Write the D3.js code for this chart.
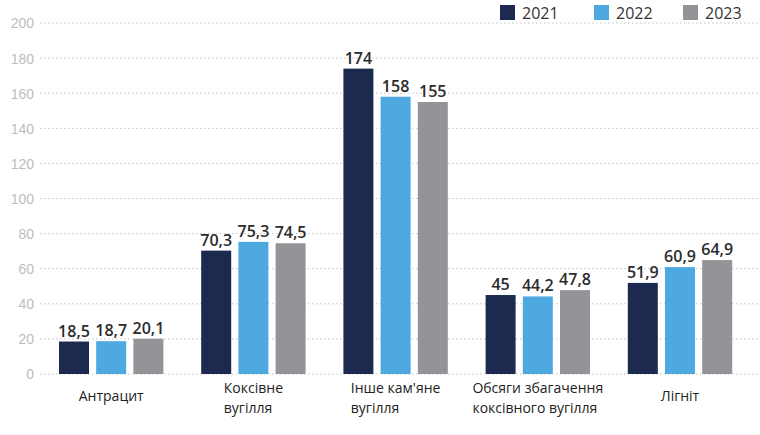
<!DOCTYPE html>
<html><head><meta charset="utf-8">
<script src="https://cdn.jsdelivr.net/npm/d3@7"></script>
<style>
html,body{margin:0;padding:0;background:#fff;}
svg{display:block;font-family:"Open Sans","Noto Sans",sans-serif;}
</style></head>
<body><svg id="c" width="760" height="435"></svg>
<script>
const categories = [["Антрацит"], ["Коксівне", "вугілля"], ["Інше кам'яне", "вугілля"], ["Обсяги збагачення", "коксівного вугілля"], ["Лігніт"]];
const years = ["2021", "2022", "2023"];
const values2021 = [18.5, 70.3, 174, 45, 51.9];
const values2022 = [18.7, 75.3, 158, 44.2, 60.9];
const values2023 = [20.1, 74.5, 155, 47.8, 64.9];
const labels2021 = ["18,5", "70,3", "174", "45", "51,9"];
const labels2022 = ["18,7", "75,3", "158", "44,2", "60,9"];
const labels2023 = ["20,1", "74,5", "155", "47,8", "64,9"];
const yTicks = [0, 20, 40, 60, 80, 100, 120, 140, 160, 180, 200];
const colors = ["#1c2a4f", "#4ea9e1", "#939497"];

const series = [values2021, values2022, values2023];
const seriesLabels = [labels2021, labels2022, labels2023];
const svg = d3.select("#c");
const y = d3.scaleLinear().domain([0, 200]).range([374, 23]);
const x0 = d3.scaleBand().domain(d3.range(categories.length)).range([40, 40 + 5 * 142.2]).padding(0);
const x1 = d3.scaleBand().domain(years).range([19, 123.4]).paddingInner(0.1935);

// axis labels + grid
const yAxis = d3.axisLeft(y).tickValues(yTicks).tickSize(0).tickPadding(0);
const ga = svg.append("g").attr("transform", "translate(34,0)").call(yAxis);
ga.select(".domain").remove();
ga.selectAll("text").attr("fill", "#bdbdbd").style("font-size", "14px").attr("dy", "0.35em").attr("x", 0);
svg.append("g").selectAll("line").data(yTicks).join("line")
  .attr("x1", 40).attr("x2", 760).attr("y1", d => y(d)).attr("y2", d => y(d))
  .attr("stroke", "#c4c4c4").attr("stroke-width", 1).attr("stroke-dasharray", "1.5,2.5");

// bars
categories.forEach((cat, i) => {
  const g = svg.append("g").attr("transform", `translate(${x0(i)},0)`);
  years.forEach((yr, j) => {
    const v = series[j][i];
    g.append("rect").attr("x", x1(yr)).attr("width", x1.bandwidth())
      .attr("y", y(v)).attr("height", y(0) - y(v)).attr("fill", colors[j]);
    g.append("text").attr("x", x1(yr) + x1.bandwidth() / 2).attr("y", y(v) - 5)
      .attr("text-anchor", "middle").attr("fill", "#2b2b2b")
      .style("font-size", "16px").style("font-weight", "600").text(seriesLabels[j][i]);
  });
  // category labels: block centred, lines left aligned
  const cx = x0(i) + x1(years[1]) + x1.bandwidth() / 2;
  const base = cat.length > 1 ? 393 : 401;
  const lines = cat.map((line, k) => svg.append("text").style("font-size", "14px").attr("fill", "#222")
    .attr("y", base + k * 20).text(line));
  const w = d3.max(lines, t => t.node().getComputedTextLength());
  lines.forEach(t => t.attr("x", cx - w / 2));
});

// legend
const lx = [500, 594, 683];
years.forEach((yr, j) => {
  svg.append("rect").attr("x", lx[j]).attr("y", 5).attr("width", 15).attr("height", 15).attr("fill", colors[j]);
  svg.append("text").attr("x", lx[j] + 22).attr("y", 19).attr("fill", "#333")
    .style("font-size", "16px").style("font-weight", "500").text(yr);
});
</script></body></html>
